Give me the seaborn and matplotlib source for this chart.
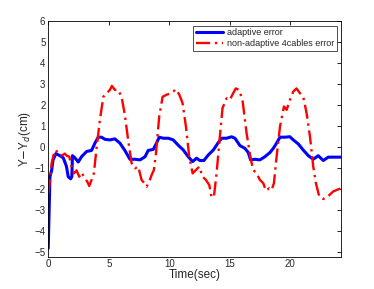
import matplotlib
matplotlib.use("Agg")
import matplotlib.pyplot as plt
import numpy as np
import pandas as pd
import seaborn as sns

# adaptive error (blue)
t_adapt = [0.0, 0.14, 0.28, 0.4, 0.63, 0.96, 1.24, 1.5, 1.65, 1.85, 1.95, 2.0, 2.2, 2.48,
           2.75, 3.17, 3.58, 3.86, 4.13, 4.4, 4.68, 5.1, 5.5, 5.92, 6.33, 6.75, 7.16, 7.58,
           8.0, 8.26, 8.68, 8.95, 9.17, 9.5, 9.92, 10.33, 10.74, 11.16, 11.57, 11.93, 12.26,
           12.53, 12.86, 13.22, 13.64, 14.05, 14.33, 14.74, 15.15, 15.43, 15.84, 16.25, 16.53,
           16.72, 17.08, 17.49, 17.9, 18.32, 18.6, 18.87, 19.15, 19.56, 19.97, 20.25, 20.66,
           21.07, 21.49, 21.9, 22.31, 22.73, 23.14, 23.55, 24.2]
e_adapt = [-4.8, -1.4, -1.1, -0.6, -0.3, -0.4, -0.5, -0.9, -1.4, -1.5, -1.4, -0.4, -0.5, -0.7,
           -0.45, -0.2, -0.15, 0.2, 0.48, 0.48, 0.38, 0.35, 0.4, 0.2, -0.15, -0.57, -0.57, -0.6,
           -0.45, -0.15, -0.1, 0.2, 0.48, 0.43, 0.43, 0.35, 0.1, -0.13, -0.45, -0.68, -0.52,
           -0.63, -0.63, -0.37, -0.13, 0.22, 0.43, 0.43, 0.5, 0.43, 0.08, -0.05, -0.25,
           -0.6, -0.57, -0.6, -0.45, -0.25, -0.05, 0.2, 0.48, 0.48, 0.5, 0.35, 0.16,
           -0.13, -0.4, -0.57, -0.4, -0.63, -0.47, -0.47, -0.47]

# non-adaptive 4 cables error (red)
t_non = [0.0, 0.14, 0.28, 0.47, 0.63, 0.83, 1.1, 1.38, 1.52, 1.74, 1.93, 2.12, 2.34, 2.56,
         2.75, 3.03, 3.22, 3.39, 3.58, 3.77, 4.0, 4.27, 4.55, 4.82, 5.1, 5.26, 5.5, 5.78,
         6.06, 6.33, 6.6, 6.89, 7.16, 7.44, 7.71, 7.9, 8.13, 8.35, 8.54, 8.73, 8.9, 9.17,
         9.45, 9.78, 10.05, 10.33, 10.55, 10.83, 11.1, 11.38, 11.65, 11.93, 12.2, 12.48,
         12.75, 13.03, 13.31, 13.5, 13.69, 13.91, 14.13, 14.4, 14.74, 15.0, 15.28, 15.5,
         15.77, 16.05, 16.39, 16.72, 16.94, 17.22, 17.49, 17.77, 17.99, 18.26, 18.46, 18.65,
         18.87, 19.15, 19.48, 19.7, 19.97, 20.25, 20.52, 20.8, 21.07, 21.35, 21.63, 21.9,
         22.12, 22.4, 22.73, 23.14, 23.55, 23.97, 24.2]
e_non = [-2.2, -1.55, -0.76, -0.3, -0.13, -0.32, -0.4, -0.3, -0.4, -0.45, -0.92, -1.24, -1.1,
         -1.4, -1.2, -1.48, -1.63, -1.84, -1.55, -1.24, 0.0, 1.3, 2.4, 2.57, 2.73, 2.92, 2.73,
         2.73, 2.4, 1.54, 0.35, -0.76, -1.0, -0.92, -1.55, -1.68, -1.87, -1.63, -1.32, -1.08,
         -0.3, 1.46, 2.4, 2.5, 2.55, 2.65, 2.76, 2.5, 2.1, 0.98, -0.45, -1.24, -1.08, -0.92,
         -1.4, -1.55, -1.8, -2.38, -2.35, -1.24, 0.19, 1.86, 2.33, 2.25, 2.57, 2.8, 2.73,
         2.25, 0.67, -0.52, -1.08, -1.24, -1.55, -1.71, -2.06, -1.95, -2.03, -1.71, -0.45,
         0.98, 1.94, 1.78, 2.25, 2.65, 2.8, 2.57, 2.4, 1.62, 0.5, -0.92, -1.71, -2.35, -2.46,
         -2.32, -2.1, -2.0, -1.95]

x_ticks = [0, 5, 10, 15, 20]
y_ticks = list(range(-5, 7))

sns.set_theme(style="white")
plt.rcParams["font.family"] = ["Liberation Sans", "DejaVu Sans"]
plt.rcParams["xtick.direction"] = "in"
plt.rcParams["ytick.direction"] = "in"

adapt = pd.DataFrame({"t": t_adapt, "err": e_adapt})
non = pd.DataFrame({"t": t_non, "err": e_non})

fig = plt.figure(figsize=(3.74, 2.89), dpi=100)
ax = fig.add_axes([0.129, 0.112, 0.783, 0.815])

sns.lineplot(data=adapt, x="t", y="err", ax=ax, color="#0000ff", lw=2.2,
             label="adaptive error", sort=False)
sns.lineplot(data=non, x="t", y="err", ax=ax, color="#ff0000", lw=1.7,
             linestyle=(0, (6, 2, 1, 2)), label="non-adaptive 4cables error", sort=False)

ax.set_xlim(0, 24.2)
ax.set_ylim(-5.2, 6)
ax.set_xticks(x_ticks)
ax.set_yticks(y_ticks)
ax.tick_params(labelsize=7, length=3, width=0.6, color="black", top=True, right=True, pad=2)
for s in ax.spines.values():
    s.set_color("black")
    s.set_linewidth(0.6)
ax.set_xlabel("Time(sec)", fontsize=8.5, labelpad=0)
ax.set_ylabel("Y$-$Y$_d$(cm)", fontsize=8.5, labelpad=1)

leg = ax.legend(loc="upper right", fontsize=6.5, frameon=True, fancybox=False,
                edgecolor="black", borderpad=0.3, handlelength=3.0, handletextpad=0.4,
                labelspacing=0.2, borderaxespad=0.5)
leg.get_frame().set_linewidth(0.6)

fig.savefig("out.png", dpi=100)
